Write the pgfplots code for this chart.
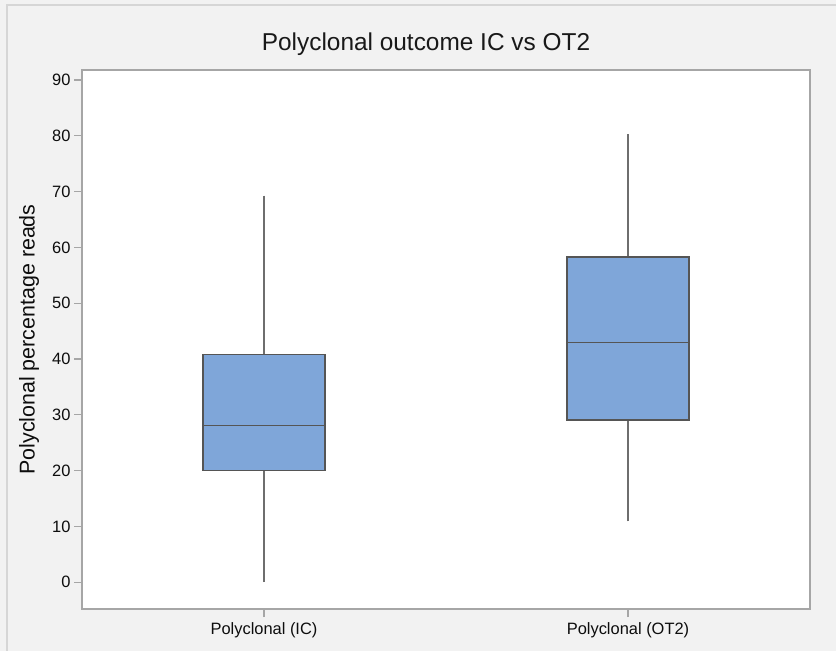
\documentclass[border=0pt]{standalone}
\usepackage{fontspec}
\setmainfont{Liberation Sans}
\usepackage{pgfplots}
\pgfplotsset{compat=1.18}
\usepgfplotslibrary{statistics}
\definecolor{bg}{HTML}{F2F2F2}
\definecolor{frameline}{HTML}{D6D6D6}
\definecolor{axisgray}{HTML}{A6A6A6}
\definecolor{boxblue}{HTML}{7FA6D9}
\definecolor{boxedge}{HTML}{555555}
\definecolor{whiskgray}{HTML}{6E6E6E}
\begin{document}
\begin{tikzpicture}
\useasboundingbox (0,0) rectangle (836bp,-651bp);
\fill[bg] (0,0) rectangle (836bp,-651bp);
\draw[frameline, line width=2bp] (7bp,-651bp) -- (7bp,-5bp) -- (836bp,-5bp);
\node[anchor=base, font=\fontsize{24.5}{28}\selectfont, text=black!90] at (426bp,-50.7bp) {Polyclonal outcome IC vs OT2};
\begin{axis}[
  at={(82bp,-70bp)}, anchor=north west,
  scale only axis, width=728bp, height=539bp,
  xmin=0.5, xmax=2.5, ymin=-4.8, ymax=91.8,
  axis background/.style={fill=white},
  axis line style={axisgray, line width=1.4bp},
  xtick={1,2}, xticklabels={Polyclonal (IC), Polyclonal (OT2)},
  ytick={0,10,...,90},
  xtick pos=bottom, ytick pos=left,
  tick align=outside, major tick length=8bp,
  tick style={axisgray, line width=1.2bp},
  /pgf/number format/assume math mode=true,
  ticklabel style={font=\fontsize{16.5}{19}\selectfont, text=black!95},
  yticklabel style={xshift=0bp},
  xticklabel style={yshift=-2bp},
  ylabel={Polyclonal percentage reads},
  ylabel style={at={(axis description cs:-0.0728,0.5)}, anchor=center, font=\fontsize{21.5}{24}\selectfont, text=black!95},
  boxplot/draw direction=y,
  boxplot/every box/.style={fill=boxblue, draw=boxedge, line width=1.3bp},
  boxplot/every median/.style={draw=boxedge, line width=1.3bp},
  boxplot/every whisker/.style={draw=whiskgray, line width=1.2bp},
  boxplot/draw/lower whisker/.code={%
    \draw[/pgfplots/boxplot/every whisker/.try]
      (boxplot cs:\pgfplotsboxplotvalue{lower whisker})
      -- (boxplot cs:\pgfplotsboxplotvalue{lower quartile});},
  boxplot/draw/upper whisker/.code={%
    \draw[/pgfplots/boxplot/every whisker/.try]
      (boxplot cs:\pgfplotsboxplotvalue{upper whisker})
      -- (boxplot cs:\pgfplotsboxplotvalue{upper quartile});},
]
\addplot+[mark=none, boxplot prepared={
  lower whisker=0, lower quartile=20, median=28.1,
  upper quartile=40.8, upper whisker=69.3,
  draw position=1, box extend=0.335}] coordinates {};
\addplot+[mark=none, boxplot prepared={
  lower whisker=10.9, lower quartile=29.1, median=42.9,
  upper quartile=58.3, upper whisker=80.3,
  draw position=2, box extend=0.335}] coordinates {};
\end{axis}
\end{tikzpicture}
\end{document}
